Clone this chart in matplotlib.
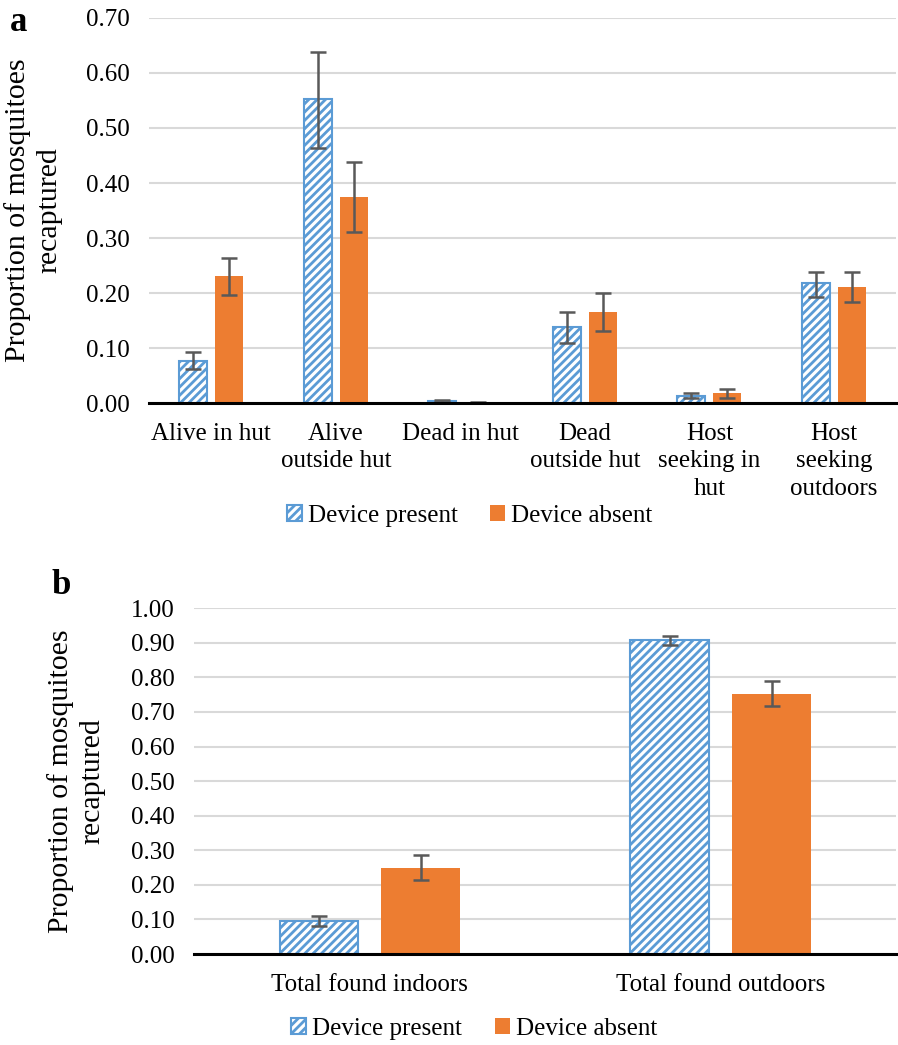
import numpy as np
import matplotlib.pyplot as plt

plt.rcParams['font.family'] = ['Liberation Serif', 'DejaVu Serif']
plt.rcParams['hatch.linewidth'] = 2.0

# panel a data
cats_a = ["Alive in hut", "Alive\noutside hut", "Dead in hut", "Dead\noutside hut",
          "Host\nseeking in\nhut", "Host\nseeking\noutdoors"]
present_a = [0.077, 0.553, 0.005, 0.139, 0.014, 0.218]
present_a_lo = [0.063, 0.464, 0.003, 0.110, 0.010, 0.194]
present_a_hi = [0.093, 0.638, 0.006, 0.166, 0.019, 0.239]
absent_a = [0.231, 0.375, 0.002, 0.165, 0.018, 0.211]
absent_a_lo = [0.197, 0.311, 0.001, 0.131, 0.009, 0.184]
absent_a_hi = [0.263, 0.438, 0.003, 0.200, 0.026, 0.239]

# panel b data
cats_b = ["Total found indoors", "Total found outdoors"]
present_b = [0.095, 0.908]
present_b_lo = [0.081, 0.893]
present_b_hi = [0.111, 0.921]
absent_b = [0.250, 0.752]
absent_b_lo = [0.214, 0.717]
absent_b_hi = [0.286, 0.789]

blue = '#5B9BD5'
orange = '#ED7D31'
errc = '#595959'
fs = 18


def draw(ax, cats, pv, plo, phi, av, alo, ahi, ymax, step):
    x = np.arange(len(cats))
    w = 0.225
    off = 0.145
    pv, av = np.array(pv), np.array(av)
    ax.bar(x - off, pv, w, facecolor='white', edgecolor=blue, hatch='////',
           linewidth=1.5, label='Device present', zorder=2)
    ax.bar(x + off, av, w, color=orange, label='Device absent', zorder=2)
    ax.errorbar(x - off, pv, yerr=[pv - np.array(plo), np.array(phi) - pv],
                fmt='none', ecolor=errc, elinewidth=1.8, capsize=6, capthick=1.8, zorder=3)
    ax.errorbar(x + off, av, yerr=[av - np.array(alo), np.array(ahi) - av],
                fmt='none', ecolor=errc, elinewidth=1.8, capsize=6, capthick=1.8, zorder=3)
    ax.set_xlim(-0.5, len(cats) - 0.5)
    ax.set_ylim(0, ymax)
    ticks = np.arange(0, ymax + step / 2, step)
    ax.set_yticks(ticks)
    ax.set_yticklabels([f"{t:.2f}" for t in ticks], fontsize=fs)
    ax.set_xticks(x)
    ax.set_xticklabels(cats, fontsize=fs, linespacing=1.32)
    ax.tick_params(axis='y', length=0, pad=14)
    ax.tick_params(axis='x', length=0, pad=14)
    ax.yaxis.grid(True, color='#D9D9D9', linewidth=1.5, zorder=0)
    ax.set_axisbelow(True)
    for s in ['top', 'right', 'left']:
        ax.spines[s].set_visible(False)
    ax.spines['bottom'].set_linewidth(2.2)
    ax.spines['bottom'].set_zorder(4)
    ax.set_ylabel("Proportion of mosquitoes\nrecaptured", fontsize=21.5, linespacing=1.25)


fig = plt.figure(figsize=(8.98, 10.45), dpi=100)

legend_kw = dict(loc='center', ncol=2, frameon=False, fontsize=fs,
                 handlelength=0.6, handleheight=0.6, handletextpad=0.25,
                 columnspacing=1.3)

ax1 = fig.add_axes([0.166, 0.614, 0.832, 0.369])
draw(ax1, cats_a, present_a, present_a_lo, present_a_hi,
     absent_a, absent_a_lo, absent_a_hi, 0.70, 0.10)
ax1.yaxis.set_label_coords(-0.116, 0.5)
ax1.legend(bbox_to_anchor=(0.523, 1 - 516 / 1045), bbox_transform=fig.transFigure, **legend_kw)

ax2 = fig.add_axes([0.2165, 0.087, 0.7815, 0.331])
draw(ax2, cats_b, present_b, present_b_lo, present_b_hi,
     absent_b, absent_b_lo, absent_b_hi, 1.00, 0.10)
ax2.yaxis.set_label_coords(-0.127, 0.5)
ax2.legend(bbox_to_anchor=(0.528, 1 - 1029 / 1045), bbox_transform=fig.transFigure, **legend_kw)

fig.text(0.011, 0.978, 'a', fontsize=25, fontweight='bold', va='center')
fig.text(0.057, 0.44, 'b', fontsize=25, fontweight='bold', va='center')

fig.savefig('out.png', dpi=100)
